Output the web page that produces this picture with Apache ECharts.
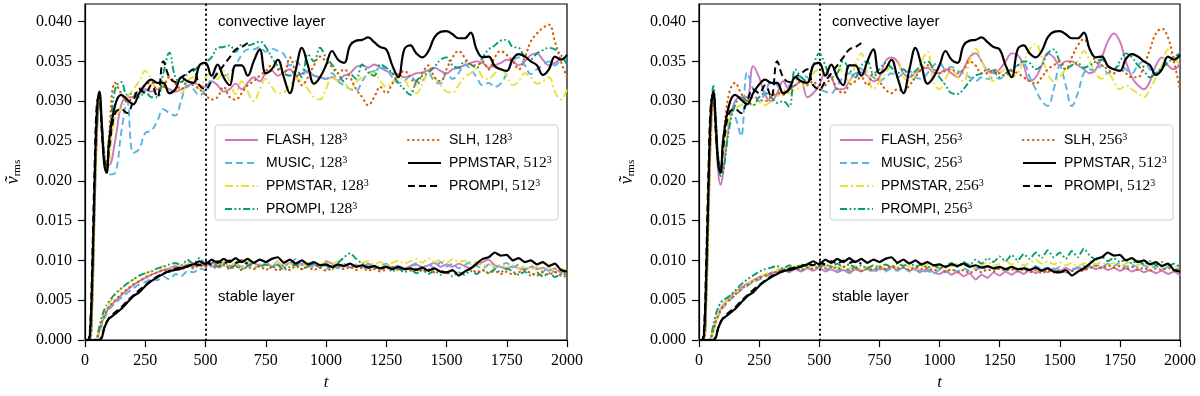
<!DOCTYPE html>
<html>
<head>
<meta charset="utf-8">
<title>v_rms convective / stable layer</title>
<script src="https://cdn.jsdelivr.net/npm/echarts@6.0.0/dist/echarts.min.js"></script>
<style>
  html, body { margin: 0; padding: 0; background: #fff; }
  #main { width: 1200px; height: 396px; }
</style>
</head>
<body>
<div id="main"></div>
<script>
// time samples shared by every curve
const tGrid = [0, 10, 20, 30, 40, 50, 60, 70, 80, 90, 100,
  125, 150, 175, 200, 225, 250, 275, 300,
  325, 350, 375, 400, 425, 450, 475, 500,
  525, 550, 575, 600, 625, 650, 675, 700,
  725, 750, 775, 800, 825, 850, 875, 900,
  925, 950, 975, 1000, 1025, 1050, 1075, 1100,
  1125, 1150, 1175, 1200, 1225, 1250, 1275, 1300,
  1325, 1350, 1375, 1400, 1425, 1450, 1475, 1500,
  1525, 1550, 1575, 1600, 1625, 1650, 1675, 1700,
  1725, 1750, 1775, 1800, 1825, 1850, 1875, 1900,
  1925, 1950, 1975, 2000];

const yTicks = [0, 0.005, 0.01, 0.015, 0.02, 0.025, 0.03, 0.035, 0.04];

// all v_rms values below are in units of 1e-3

// ---- reference runs, 512^3 (same in both panels)
const ppm512Conv = [0, 0, 0.5, 8, 20, 29, 31.2, 27, 22, 21, 25,
  29.5, 30.8, 30.2, 29.6, 31, 32.1, 32.7, 32.3,
  32.3, 31.0, 31.5, 33.0, 32.5, 32.3, 34.5, 34.8,
  33.2, 34.6, 33.0, 32.0, 34.5, 34.5, 33.2, 35.0,
  36.5, 33.5, 34.0, 35.2, 33.0, 31.0, 34.0, 36.7,
  34.5, 32.2, 33.0, 34.5, 36.3, 35.2, 34.8, 37.0,
  37.6, 37.7, 38.0, 37.4, 36.8, 36.5, 34.5, 33.0,
  36.5, 37.0, 36.0, 35.5, 36.3, 38.0, 38.7, 38.8,
  38.4, 37.9, 37.9, 38.6, 36.5, 35.5, 35.6, 34.4,
  34.0, 33.8, 35.3, 35.9, 35.6, 35.0, 34.5, 33.3,
  34.0, 35.6, 35.2, 35.8];
const ppm512Stab = [0, 0, 0, 0, 0, 0, 0, 0.3, 1.5, 2.2, 2.7,
  3.3, 3.9, 4.7, 5.5, 6.0, 6.8, 7.4, 7.9,
  8.3, 8.7, 8.8, 9.0, 9.3, 9.5, 9.9, 9.5,
  10.1, 9.7, 10.2, 9.8, 10.3, 9.8, 10.2, 9.7,
  10.1, 9.8, 10.2, 10.4, 9.7, 10.1, 9.6, 10.0,
  9.5, 9.8, 9.4, 9.5, 9.2, 9.5, 9.3, 9.6,
  9.2, 9.4, 9.1, 9.3, 9.0, 9.2, 8.9, 9.2,
  8.9, 9.0, 8.8, 9.1, 8.7, 9.0, 8.6, 8.5,
  8.8, 8.1, 8.6, 9.0, 9.6, 10.2, 10.4, 11.0,
  10.6, 10.7, 10.0, 10.3, 9.8, 10.0, 9.5, 9.8,
  9.3, 9.6, 8.8, 8.6];
const prompi512Conv = [0, 0, 1, 10, 22, 30, 30.5, 26, 22.5, 21.5, 24,
  28.5, 29, 28.5, 30, 31.5, 31, 32, 30.5,
  35, 33, 32.4, 33, 33.5, 34, 32, 31.5,
  32.5, 33.5, 34.5, 35.5, 36.5, 36.8, 37.3];
const prompi512Stab = [0, 0, 0, 0, 0, 0, 0, 0.5, 1.6, 2.3, 2.8,
  3.5, 4.1, 4.9, 5.6, 6.3, 6.9, 7.5, 8.0,
  8.4, 8.6, 9.0, 9.1, 9.2, 9.6, 9.4, 9.8,
  9.5, 9.9, 9.6, 10.0, 9.7, 9.9, 9.6];

// ---- 128^3 runs (left panel)
const flash128Conv = [0, 0, 0, 4, 16, 26, 29.5, 27, 23, 22, 22,
  25, 29.5, 30.5, 30.5, 31, 31.5, 31.2, 31.5,
  31.8, 31.5, 31.2, 31.5, 31.8, 32.3, 32, 31.8,
  32.5, 32, 31.2, 31.5, 32.2, 31.5, 32.3, 33,
  32.5, 33.5, 33.8, 33.2, 33.6, 34, 33.2, 33.5,
  33.8, 33.2, 33, 32.8, 33, 32.6, 33.2, 33.5,
  34.3, 34.5, 34.2, 34.6, 34.2, 33.8, 33.5, 33.4,
  33, 33.2, 33.5, 33.6, 33.9, 34.2, 33.8, 33.5,
  34, 34.2, 34.5, 34.8, 35, 34.8, 34.2, 34.5,
  34.8, 35.2, 35, 34.5, 35, 35.8, 36, 35.2,
  34.5, 34.8, 35.3, 35.5];
const music128Conv = [0, 0, 0, 5, 17, 27, 30, 27, 23, 21.5, 20.8,
  21, 26, 30, 23.5, 24, 26, 26.3, 27.5,
  29, 28.5, 28.2, 30.2, 32, 31.5, 30.7, 31.5,
  32.8, 33.5, 33.2, 33.5, 34.5, 35.8, 36.5, 36.5,
  36.8, 36.2, 36.6, 36.3, 35.9, 34.5, 35, 34.2,
  33.5, 33.2, 33, 32.8, 33.5, 32.5, 32, 31.5,
  31.3, 32.5, 33.5, 33.8, 34.2, 34, 33, 32.3,
  32.5, 33.2, 32.5, 32.6, 33.5, 32.5, 32.2, 33.5,
  32.8, 33.5, 34.6, 34, 33, 32, 32.3, 31.8,
  32.2, 33.5, 35, 35.5, 34.5, 33.4, 34, 34.5,
  35, 34.5, 35.2, 35.5];
const ppmstar128Conv = [0, 0, 0, 5, 17, 27, 30.5, 27.5, 23, 21, 22.5,
  28, 29, 30.5, 31.5, 32.5, 33.8, 32.8, 31.5,
  32, 33, 32.2, 31, 32.5, 33, 31.5, 33,
  33.5, 32.8, 33.8, 32.5, 30.9, 32.5, 31.2, 30,
  31.5, 32.8, 31.8, 31, 31.1, 32, 32.8, 32.5,
  31.5, 30.5, 30.2, 31.5, 33.2, 32.5, 32.4, 31.5,
  32.4, 33, 33.2, 33.6, 32.5, 31.8, 32.4, 33,
  32.7, 31.5, 31, 32.2, 33.5, 33, 32, 31.2,
  31.1, 32, 33, 33.5, 34.1, 33, 32.8, 33.5,
  34, 33.2, 32, 32.5, 33.5, 33, 32.2, 32.5,
  33, 31.2, 30.2, 31.5];
const prompi128Conv = [0, 0, 0, 6, 18, 27, 30, 27, 23.5, 22, 25,
  31.5, 32.4, 30.8, 31, 30.5, 31.2, 30.5, 30.5,
  33.5, 36.1, 33, 32.4, 33.5, 33.8, 34.5, 34.9,
  35.5, 36.7, 36.8, 37, 36.2, 37.1, 37, 37.2,
  37.5, 36.8, 35.5, 34.4, 33.5, 33.2, 34, 33,
  35.9, 35, 36.7, 35.5, 34.6, 33.5, 32.5, 33.4,
  32.8, 34.6, 33.6, 33.2, 34.6, 34.2, 33.5, 32.3,
  31.5, 30.8, 32.5, 33.2, 33.6, 34.3, 35.2, 35.5,
  34.5, 34.2, 35, 34.6, 34.2, 35.5, 36.5, 37,
  37.6, 37.7, 36.8, 36.7, 35.5, 35.3, 36, 36.4,
  36.7, 36.5, 35.8, 34.6];
const slh128Conv = [0, 0, 0, 5, 17, 27, 30, 26.5, 22.5, 21.5, 26,
  32.3, 31, 30, 30.5, 31.5, 32, 32.4, 31.5,
  31.8, 33, 32.2, 31.5, 32.5, 32, 31.5, 30.8,
  30.2, 30.5, 31.8, 30.5, 30.2, 31, 32, 32.5,
  33.2, 33.8, 34.5, 34, 33.5, 35.5, 33.5, 32,
  33, 34.5, 35.6, 35, 34.3, 33.5, 34, 33,
  31.5, 30.5, 29.5, 30.5, 31.8, 31, 32.2, 33.2,
  33.8, 33, 32, 33.5, 34.5, 33, 32.5, 34,
  35.5, 36.3, 35.5, 34.6, 34.5, 35, 34, 35.5,
  36.3, 35.8, 35, 34, 35.5, 37.5, 38.5, 39.2,
  39.6, 37.5, 35, 33];

const flash128Stab = [0, 0, 0, 0, 0, 0.2, 1.2, 2.2, 3.0, 3.6, 4.1,
  4.9, 5.6, 6.3, 6.9, 7.4, 7.8, 8.2, 8.5,
  8.8, 9.0, 9.3, 9.1, 9.5, 9.2, 9.6, 9.3,
  9.7, 9.4, 9.8, 9.3, 9.6, 10.1, 9.4, 9.7,
  9.3, 9.6, 9.2, 9.5, 9.3, 9.7, 9.4, 9.6,
  9.2, 9.5, 9.1, 9.9, 9.6, 9.2, 9.5, 9.1,
  9.4, 9.2, 9.6, 9.3, 9.0, 9.4, 9.1, 9.3,
  9.0, 9.3, 9.5, 9.1, 9.4, 9.7, 9.2, 9.5,
  9.2, 9.6, 9.3, 9.0, 9.4, 9.8, 10.1, 9.4,
  9.2, 8.9, 9.3, 9.0, 8.8, 9.2, 8.9, 9.1,
  8.7, 9.0, 8.5, 8.8];
const music128Stab = [0, 0, 0, 0, 0, 0.2, 1.0, 1.9, 2.7, 3.3, 3.9,
  4.6, 5.3, 5.9, 6.5, 7.0, 7.3, 7.7, 7.5,
  8.0, 7.6, 8.3, 8.0, 8.7, 8.5, 9.0, 8.8,
  9.3, 8.9, 9.5, 9.1, 9.6, 9.2, 9.8, 9.0,
  9.5, 9.8, 9.2, 9.9, 9.3, 9.6, 10.2, 9.4,
  9.7, 9.1, 9.5, 8.9, 9.4, 9.0, 9.6, 9.2,
  9.5, 9.0, 9.4, 8.9, 9.3, 9.6, 9.0, 9.4,
  8.9, 9.3, 9.7, 9.1, 9.5, 9.0, 9.8, 9.2,
  9.6, 9.0, 9.4, 9.8, 9.3, 9.0, 9.5, 9.1,
  9.4, 9.7, 9.1, 9.5, 8.9, 9.3, 9.0, 8.6,
  9.1, 8.5, 8.8, 8.2];
const ppmstar128Stab = [0, 0, 0, 0, 0, 0.3, 1.5, 2.6, 3.4, 4.1, 4.6,
  5.6, 6.4, 7.1, 7.6, 8.0, 8.4, 8.7, 9.0,
  9.3, 9.1, 9.6, 9.4, 9.8, 9.5, 9.9, 9.6,
  9.9, 9.5, 9.8, 9.4, 9.7, 9.3, 9.8, 9.5,
  9.2, 9.6, 9.4, 9.8, 9.3, 9.6, 9.2, 9.5,
  9.3, 9.7, 9.4, 9.8, 9.5, 9.9, 9.4, 9.6,
  9.3, 9.7, 9.9, 9.5, 9.8, 9.4, 9.7, 10.0,
  9.6, 9.9, 10.2, 9.7, 10.3, 9.8, 10.1, 9.6,
  10.2, 9.8, 10.0, 9.5, 9.8, 9.3, 9.6, 9.2,
  9.5, 9.1, 9.4, 9.0, 9.3, 8.9, 9.2, 8.8,
  9.1, 8.7, 9.0, 8.6];
const prompi128Stab = [0, 0, 0, 0, 0, 0.4, 1.8, 3.0, 3.8, 4.4, 4.9,
  5.8, 6.5, 7.1, 7.6, 8.1, 8.4, 8.6, 9.0,
  9.2, 9.5, 9.7, 9.4, 10.1, 9.6, 10.3, 9.5,
  9.9, 9.2, 9.6, 9.0, 9.4, 8.9, 9.3, 9.7,
  9.2, 9.5, 9.0, 9.4, 8.8, 9.2, 9.5, 8.9,
  9.3, 9.6, 9.1, 9.4, 8.9, 9.7, 10.4, 10.9,
  10.2, 9.6, 9.1, 9.4, 8.9, 9.2, 8.6, 9.0,
  8.5, 8.9, 8.4, 8.8, 8.3, 8.7, 8.2, 8.6,
  8.0, 8.5, 8.2, 8.7, 8.3, 8.8, 8.4, 8.9,
  8.5, 9.0, 8.6, 8.2, 8.6, 8.1, 8.5, 8.0,
  8.4, 7.9, 8.3, 7.8];
const slh128Stab = [0, 0, 0, 0, 0, 0.2, 1.2, 2.3, 3.1, 3.7, 4.2,
  5.0, 5.8, 6.4, 7.0, 7.4, 7.9, 8.2, 8.5,
  8.8, 8.6, 9.0, 8.8, 9.3, 9.0, 9.4, 9.1,
  9.5, 9.1, 9.4, 8.9, 9.3, 8.8, 9.2, 8.9,
  9.3, 8.8, 9.2, 8.7, 9.1, 8.8, 9.3, 8.9,
  9.2, 8.8, 9.1, 8.7, 9.0, 9.3, 8.9, 9.2,
  8.8, 9.1, 8.7, 9.0, 8.6, 8.9, 9.2, 8.8,
  9.1, 8.7, 9.0, 8.6, 8.9, 8.5, 8.8, 8.4,
  8.7, 8.3, 8.6, 8.9, 8.5, 8.8, 8.4, 8.7,
  8.3, 8.6, 8.2, 8.5, 8.8, 8.4, 8.1, 8.5,
  8.2, 8.6, 8.1, 8.4];

// ---- 256^3 runs (right panel)
const flash256Conv = [0, 0, 0, 5, 16, 26, 30, 26, 21, 19.5, 21,
  27, 30, 30.5, 30.5, 34.4, 33, 30.8, 30,
  31, 32.5, 31.5, 32, 32.5, 30.5, 31, 32,
  33.5, 33, 31.5, 31.5, 32.5, 33.5, 33.6, 33.2,
  32.5, 33, 35, 35.5, 35, 33.5, 33, 33.5,
  34, 34.2, 33.6, 33.5, 34, 33.5, 33, 34,
  35.5, 36, 35, 33.8, 33.5, 34, 35, 36,
  35.8, 34.5, 32.5, 33, 34.5, 36, 35.5, 34.5,
  35, 35, 34.5, 34, 33.5, 34, 35.5, 37.5,
  38.5, 37.5, 35, 33, 32, 31.5, 32.5, 34.5,
  35.5, 34.5, 34, 34.8];
const music256Conv = [0, 0, 0, 5, 17, 27, 30.5, 27.5, 23, 21.5, 24,
  28.5, 28, 25.6, 33.6, 31.5, 30, 31, 32.5,
  32, 31, 32, 32.5, 33.2, 33, 32, 31.5,
  31.2, 31, 32, 33, 33.5, 33, 34, 33.5,
  33, 32.5, 33, 33.5, 33, 33.5, 33.8, 33,
  32.8, 33.5, 34.5, 34.8, 34, 34.3, 33.8, 33.5,
  33, 32.5, 33, 32.8, 33, 32.8, 33.5, 34,
  34.5, 34.7, 33, 31.5, 30, 29.4, 31.5, 34.4,
  32, 29.4, 31, 33.5, 34, 33.8, 34.5, 33.5,
  34, 34.5, 34, 33.5, 34.5, 35, 34, 33.5,
  34.2, 35, 35.5, 35.2];
const ppmstar256Conv = [0, 0, 0, 4, 15, 25, 29.5, 27, 23, 21.5, 23,
  27.5, 29, 29.5, 30, 29.5, 29.8, 29.5, 30,
  30.5, 31.5, 31, 31.5, 31.7, 32.5, 33.5, 34,
  33.5, 34.4, 34.4, 33.5, 32.5, 34.5, 36, 33.5,
  31.5, 32.5, 33.5, 34.5, 35, 33, 32.5, 33.5,
  35, 36.2, 32.5, 31.5, 32.8, 34, 33, 32.5,
  35, 36.6, 35, 33.5, 32.5, 33.5, 34, 33,
  33.5, 35, 36.5, 37.2, 35.5, 33.5, 32.5, 33,
  34, 34.5, 35, 36.3, 35, 33.5, 32.8, 33.5,
  32.5, 31.5, 32, 31.5, 31, 30.5, 31.5, 33,
  34.5, 36.5, 35.5, 34.5];
const prompi256Conv = [0, 0, 0, 6, 19, 29, 31.9, 28, 23, 20.6, 21,
  26.5, 29.5, 30.5, 30, 29.5, 30.5, 31, 30.5,
  29.8, 30, 29.3, 34, 33, 32.5, 34.5, 36,
  34.5, 33, 33.5, 35, 34, 33, 34.5, 35,
  33.5, 34, 34.8, 34.2, 33.5, 34, 33.1, 33.8,
  34.5, 35, 34, 33, 32, 31, 30.9, 31.5,
  32.5, 33.2, 33.5, 34, 33.8, 33, 33.5, 34,
  34.5, 35, 34.8, 34, 34.5, 36, 36.5, 35,
  34, 34.5, 34.8, 34.2, 34.5, 35, 35.2, 34.5,
  34, 35, 36, 35.5, 34.5, 33.8, 33, 33.5,
  34.2, 34.8, 35.5, 36];
const slh256Conv = [0, 0, 0, 5, 17, 27, 30, 26.5, 22.5, 21.5, 25,
  31, 32.3, 31, 30, 30.5, 30.2, 30, 30.5,
  31, 30.8, 31.5, 32, 32.5, 32, 32.5, 31.5,
  32, 32.8, 31.5, 31, 32, 32.5, 33, 32,
  33.5, 32.5, 31.5, 31, 31.5, 31.2, 32, 33,
  34, 34.5, 34.2, 33.5, 33.8, 34, 33.5, 34,
  35, 34.5, 33.5, 33.5, 34, 33.5, 33.2, 33.8,
  33.5, 33, 32.5, 32.2, 33, 34, 34.5, 35,
  34, 35.5, 37, 37.8, 36.5, 35, 34.5, 34,
  33.5, 34, 33.5, 33, 33, 34.5, 36.5, 38.5,
  39.1, 38, 35, 31.5];

const flash256Stab = [0, 0, 0, 0, 0, 0.3, 1.4, 2.5, 3.3, 3.9, 4.4,
  5.3, 6.0, 6.6, 7.1, 7.5, 7.9, 8.2, 8.4,
  8.6, 8.8, 8.5, 8.9, 8.6, 9.0, 8.7, 9.1,
  8.6, 8.9, 8.5, 8.8, 8.4, 8.9, 8.6, 9.0,
  8.7, 9.1, 8.8, 9.2, 8.8, 9.1, 8.7, 9.0,
  8.6, 8.9, 8.5, 8.3, 8.7, 8.2, 8.6, 8.0,
  8.4, 7.6, 8.2, 7.8, 8.5, 8.1, 8.6, 8.2,
  8.7, 8.3, 8.8, 8.4, 8.9, 8.5, 9.0, 8.6,
  9.1, 8.7, 9.2, 8.8, 9.3, 8.9, 9.2, 8.8,
  9.1, 8.7, 9.0, 8.6, 8.9, 8.5, 8.8, 8.4,
  8.7, 8.3, 8.6, 8.1];
const music256Stab = [0, 0, 0, 0, 0, 0.2, 1.2, 2.2, 3.0, 3.6, 4.1,
  4.9, 5.6, 6.3, 6.8, 7.3, 7.6, 8.0, 8.3,
  8.5, 8.8, 8.6, 9.0, 8.7, 9.1, 8.8, 9.2,
  8.8, 9.1, 8.7, 9.0, 8.6, 9.1, 8.7, 8.9,
  8.5, 8.9, 8.6, 9.0, 8.7, 9.1, 8.6, 8.8,
  8.4, 8.7, 8.3, 8.8, 8.5, 8.9, 8.6, 9.0,
  8.7, 9.1, 8.8, 9.2, 8.9, 9.0, 8.7, 9.1,
  8.8, 9.2, 8.9, 9.3, 8.9, 9.1, 8.8, 9.2,
  8.5, 8.9, 9.0, 9.3, 9.1, 9.5, 9.2, 9.6,
  9.3, 9.7, 9.2, 9.5, 9.1, 9.4, 9.0, 9.3,
  8.9, 9.2, 8.8, 9.1];
const ppmstar256Stab = [0, 0, 0, 0, 0, 0.2, 1.3, 2.4, 3.2, 3.8, 4.3,
  5.2, 5.9, 6.5, 7.1, 7.5, 7.9, 8.3, 8.6,
  8.8, 9.1, 8.9, 9.3, 9.0, 9.4, 9.1, 9.5,
  9.2, 9.5, 9.1, 9.4, 9.0, 9.3, 8.9, 9.2,
  8.9, 9.3, 9.0, 9.4, 9.1, 9.5, 9.2, 8.8,
  9.2, 9.5, 9.1, 9.4, 9.0, 9.3, 9.6, 9.2,
  9.5, 9.1, 9.4, 9.8, 9.3, 9.6, 10.0, 9.5,
  9.8, 9.4, 9.7, 10.1, 9.6, 9.9, 9.5, 9.8,
  9.4, 9.7, 9.3, 9.6, 9.9, 9.5, 9.8, 9.4,
  9.7, 9.3, 9.6, 9.9, 9.4, 9.7, 9.3, 9.6,
  9.2, 9.5, 9.1, 9.4];
const prompi256Stab = [0, 0, 0, 0, 0, 0.5, 2.0, 3.3, 4.1, 4.7, 5.0,
  5.5, 6.2, 7.0, 7.6, 8.1, 8.6, 8.9, 9.1,
  9.3, 9.0, 9.4, 9.1, 9.5, 9.2, 9.6, 9.3,
  9.5, 9.2, 9.6, 9.2, 9.5, 9.1, 9.4, 9.0,
  9.4, 9.1, 9.5, 9.2, 9.6, 9.3, 9.7, 9.2,
  9.5, 9.1, 9.4, 9.0, 9.3, 9.7, 9.2, 9.8,
  9.4, 10.1, 9.6, 10.3, 9.8, 10.5, 9.9, 10.7,
  10.0, 10.8, 10.2, 11.0, 10.3, 11.3, 10.4, 11.0,
  10.2, 11.2, 10.4, 11.5, 10.6, 10.1, 10.5, 9.9,
  10.3, 9.8, 10.1, 9.6, 10.0, 9.5, 9.9, 9.4,
  9.8, 9.3, 9.6, 9.2];
const slh256Stab = [0, 0, 0, 0, 0, 0.2, 1.2, 2.3, 3.1, 3.7, 4.2,
  5.0, 5.7, 6.4, 6.9, 7.4, 7.8, 8.1, 8.4,
  8.6, 8.9, 8.7, 9.1, 8.8, 9.2, 8.9, 9.3,
  9.0, 9.3, 8.9, 9.2, 8.8, 9.1, 8.7, 9.0,
  8.8, 9.2, 8.9, 9.3, 9.0, 9.1, 8.8, 9.2,
  8.9, 9.1, 8.7, 9.0, 8.6, 8.9, 8.5, 8.8,
  8.4, 8.8, 8.5, 8.9, 8.6, 9.0, 8.7, 8.9,
  8.6, 8.9, 8.5, 8.8, 8.4, 8.7, 8.5, 8.8,
  8.4, 8.7, 8.5, 8.8, 9.0, 9.3, 9.0, 9.4,
  9.1, 9.3, 8.9, 9.2, 8.8, 9.1, 8.7, 9.0,
  8.8, 9.1, 8.7, 8.9];

// line look of each code (seaborn colorblind palette)
const codeStyle = {
  FLASH:   { color: '#CC78BC', width: 1.9, type: 'solid' },
  MUSIC:   { color: '#56B4E9', width: 1.9, type: [7, 4] },
  PPMSTAR: { color: '#ECE133', width: 1.9, type: [8, 3, 2, 3] },
  PROMPI:  { color: '#029E73', width: 1.9, type: [7, 2.5, 1.8, 2.5, 1.8, 2.5] },
  SLH:     { color: '#D55E00', width: 2.2, type: [0.5, 4.5], cap: 'round' },
  REF_PPM: { color: '#000000', width: 2.2, type: 'solid' },
  REF_PRO: { color: '#000000', width: 2.0, type: [7, 4] }
};

const SERIF = '"Liberation Serif", "DejaVu Serif", serif';
const SANS = '"Liberation Sans", Arial, sans-serif';

function toPairs(vals) {
  return vals.map((v, i) => [tGrid[i], v / 1000]);
}

function line(name, vals, style, idx, smooth, z) {
  return {
    type: 'line',
    name: name,
    xAxisIndex: idx,
    yAxisIndex: idx,
    data: toPairs(vals),
    symbol: 'none',
    showSymbol: false,
    smooth: smooth,
    z: z,
    color: style.color,
    lineStyle: {
      color: style.color,
      width: style.width,
      type: style.type,
      cap: style.cap || 'butt'
    },
    emphasis: { disabled: true }
  };
}

function panelSeries(idx, res, runs) {
  let out = [];
  runs.forEach((r, k) => {
    let name = r[0] + ', ' + res + '³';
    out.push(line(name, r[1], codeStyle[r[0]], idx, 0.4, 2 + k));
    out.push(line(name, r[2], codeStyle[r[0]], idx, 0.15, 2 + k));
  });
  let n1 = 'PPMSTAR, 512³';
  let n2 = 'PROMPI, 512³';
  out.push(line(n1, ppm512Conv, codeStyle.REF_PPM, idx, 0.4, 10));
  out.push(line(n1, ppm512Stab, codeStyle.REF_PPM, idx, 0.15, 10));
  out.push(line(n2, prompi512Conv, codeStyle.REF_PRO, idx, 0.4, 9));
  out.push(line(n2, prompi512Stab, codeStyle.REF_PRO, idx, 0.15, 9));
  // dotted boundary at t = 500
  out[0].markLine = {
    silent: true,
    symbol: 'none',
    label: { show: false },
    lineStyle: { color: '#000', width: 2, type: [0.5, 4.5], cap: 'round' },
    data: [{ xAxis: 500 }]
  };
  return out;
}

const leftRuns = [
  ['FLASH', flash128Conv, flash128Stab],
  ['MUSIC', music128Conv, music128Stab],
  ['PPMSTAR', ppmstar128Conv, ppmstar128Stab],
  ['PROMPI', prompi128Conv, prompi128Stab],
  ['SLH', slh128Conv, slh128Stab]
];
const rightRuns = [
  ['FLASH', flash256Conv, flash256Stab],
  ['MUSIC', music256Conv, music256Stab],
  ['PPMSTAR', ppmstar256Conv, ppmstar256Stab],
  ['PROMPI', prompi256Conv, prompi256Stab],
  ['SLH', slh256Conv, slh256Stab]
];

const grids = [
  { left: 85, top: 4, width: 482, height: 338 },
  { left: 699, top: 4, width: 481, height: 338 }
];

function xAxisOf(i) {
  return {
    gridIndex: i, type: 'value', min: 0, max: 2000, interval: 250,
    name: 't', nameLocation: 'middle', nameGap: 30,
    nameTextStyle: { fontFamily: SERIF, fontStyle: 'italic', fontSize: 17, color: '#000' },
    axisLine: { show: true, onZero: false, lineStyle: { color: '#000', width: 1.2 } },
    axisTick: { show: true, inside: false, length: 7, lineStyle: { color: '#000', width: 1.2 } },
    axisLabel: { fontFamily: SERIF, fontSize: 16, color: '#000', margin: 13, formatter: v => String(v) },
    splitLine: { show: false }
  };
}

function yAxisOf(i) {
  return {
    gridIndex: i, type: 'value', min: 0, max: 0.0422,
    name: '{v|ṽ}{s|rms}', nameLocation: 'middle', nameGap: 62,
    nameTextStyle: {
      color: '#000',
      rich: {
        v: { fontFamily: SERIF, fontStyle: 'italic', fontSize: 18, color: '#000', lineHeight: 20 },
        s: { fontFamily: SERIF, fontSize: 11, color: '#000', verticalAlign: 'bottom', lineHeight: 20, padding: [6, 0, 0, 0] }
      }
    },
    axisLine: { show: true, lineStyle: { color: '#000', width: 1.2 } },
    axisTick: { show: true, length: 7, customValues: yTicks, lineStyle: { color: '#000', width: 1.2 } },
    axisLabel: {
      fontFamily: SERIF, fontSize: 16, color: '#000', margin: 13,
      customValues: yTicks,
      formatter: v => v.toFixed(3)
    },
    splitLine: { show: false }
  };
}

function legendFmt(name) {
  let m = name.match(/^(.*, )(\d+)³$/);
  return '{a|' + m[1] + '}{b|' + m[2] + '}{c|3}';
}

function legendOf(left, names) {
  return {
    show: true, orient: 'vertical', left: left, top: 127, z: 60,
    itemWidth: 33, itemHeight: 14, itemGap: 5,
    data: names,
    formatter: legendFmt,
    selectedMode: false,
    itemStyle: { color: 'transparent', borderWidth: 0, opacity: 0 },
    textStyle: {
      padding: [0, 0, 0, 3],
      rich: {
        a: { fontFamily: SANS, fontSize: 14, color: '#000', lineHeight: 16 },
        b: { fontFamily: SERIF, fontSize: 15.5, color: '#000', lineHeight: 16 },
        c: { fontFamily: SERIF, fontSize: 10, color: '#000', verticalAlign: 'top', lineHeight: 16, padding: [0, 0, 8, 0] }
      }
    }
  };
}

const option = {
  animation: false,
  backgroundColor: '#fff',
  grid: grids.map(g => Object.assign({ show: true, borderColor: '#000', borderWidth: 1.2, backgroundColor: 'transparent' }, g)),
  xAxis: [xAxisOf(0), xAxisOf(1)],
  yAxis: [yAxisOf(0), yAxisOf(1)],
  legend: [
    legendOf(219, ['FLASH, 128³', 'MUSIC, 128³', 'PPMSTAR, 128³', 'PROMPI, 128³']),
    legendOf(402, ['SLH, 128³', 'PPMSTAR, 512³', 'PROMPI, 512³']),
    legendOf(834, ['FLASH, 256³', 'MUSIC, 256³', 'PPMSTAR, 256³', 'PROMPI, 256³']),
    legendOf(1017, ['SLH, 256³', 'PPMSTAR, 512³', 'PROMPI, 512³'])
  ],
  graphic: [
    { type: 'rect', z: 50, shape: { x: 215, y: 125, width: 343, height: 95, r: 3 },
      style: { fill: 'rgba(255,255,255,0.85)', stroke: '#d0d0d0', lineWidth: 1 } },
    { type: 'rect', z: 50, shape: { x: 830, y: 125, width: 343, height: 95, r: 3 },
      style: { fill: 'rgba(255,255,255,0.85)', stroke: '#d0d0d0', lineWidth: 1 } },
    { type: 'text', z: 50, x: 218, y: 14, style: { text: 'convective layer', font: '15px ' + SANS, fill: '#000' } },
    { type: 'text', z: 50, x: 218, y: 289, style: { text: 'stable layer', font: '15px ' + SANS, fill: '#000' } },
    { type: 'text', z: 50, x: 832, y: 14, style: { text: 'convective layer', font: '15px ' + SANS, fill: '#000' } },
    { type: 'text', z: 50, x: 832, y: 289, style: { text: 'stable layer', font: '15px ' + SANS, fill: '#000' } }
  ],
  series: panelSeries(0, 128, leftRuns).concat(panelSeries(1, 256, rightRuns))
};

let chart = echarts.init(document.getElementById('main'), null, { renderer: 'canvas' });
chart.setOption(option);
window.addEventListener('resize', function () {
  chart.resize();
});
</script>
</body>
</html>
